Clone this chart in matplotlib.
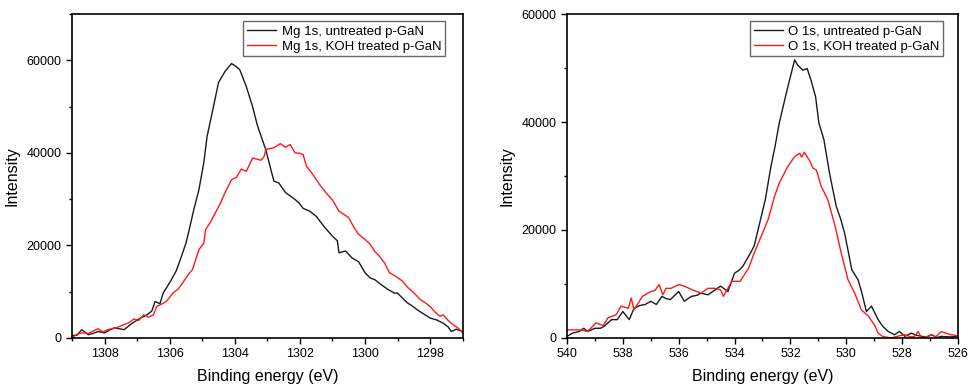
import matplotlib
matplotlib.use("Agg")
import matplotlib.pyplot as plt
from matplotlib.ticker import MultipleLocator

plt.rcParams['font.family'] = ['Liberation Sans', 'DejaVu Sans']

# ---- Mg 1s data ----
mg_untreated_e = [1309.0, 1308.85, 1308.7, 1308.5, 1308.35, 1308.2, 1308.0, 1307.85, 1307.7, 1307.55,
                  1307.4, 1307.15, 1306.9, 1306.7, 1306.55, 1306.45, 1306.3, 1306.2, 1305.97, 1305.8,
                  1305.67, 1305.5, 1305.4, 1305.25, 1305.1, 1304.95, 1304.85, 1304.7, 1304.5, 1304.3,
                  1304.1, 1303.95, 1303.85, 1303.65, 1303.46, 1303.3, 1303.05, 1302.8, 1302.65, 1302.44,
                  1302.2, 1302.03, 1301.9, 1301.7, 1301.5, 1301.25, 1301.0, 1300.85, 1300.8, 1300.6,
                  1300.4, 1300.2, 1300.0, 1299.85, 1299.7, 1299.5, 1299.3, 1299.1, 1299.0, 1298.85,
                  1298.7, 1298.55, 1298.4, 1298.2, 1298.0, 1297.8, 1297.6, 1297.45, 1297.35, 1297.2,
                  1297.0]
mg_untreated_i = [500, 600, 1800, 700, 1000, 1400, 1100, 1700, 2200, 2000,
                  1800, 3200, 4300, 5000, 5800, 7900, 7400, 9700, 12300, 14500,
                  17000, 20500, 23400, 28000, 32100, 38000, 43600, 48500, 55200, 57600,
                  59300, 58600, 58000, 54400, 50100, 45800, 40700, 33900, 33500, 31400,
                  30200, 29200, 28000, 27400, 26300, 24000, 22000, 21000, 18400, 18800,
                  17300, 16500, 14100, 13000, 12600, 11500, 10500, 9700, 9700, 8600,
                  7600, 6900, 6100, 5200, 4300, 3900, 3200, 2400, 1400, 1900,
                  1400]

mg_koh_e = [1309.0, 1308.85, 1308.7, 1308.5, 1308.35, 1308.2, 1308.05, 1307.9, 1307.65, 1307.4,
            1307.25, 1307.1, 1306.95, 1306.8, 1306.65, 1306.5, 1306.4, 1306.25, 1306.1, 1305.9,
            1305.75, 1305.6, 1305.45, 1305.3, 1305.1, 1304.95, 1304.9, 1304.75, 1304.6, 1304.45,
            1304.3, 1304.1, 1303.95, 1303.8, 1303.65, 1303.45, 1303.3, 1303.2, 1303.1, 1303.05,
            1302.8, 1302.6, 1302.45, 1302.3, 1302.15, 1302.0, 1301.9, 1301.8, 1301.6, 1301.4,
            1301.2, 1301.0, 1300.8, 1300.5, 1300.35, 1300.2, 1300.0, 1299.85, 1299.7, 1299.55,
            1299.4, 1299.25, 1299.05, 1298.85, 1298.7, 1298.55, 1298.3, 1298.15, 1298.0, 1297.85,
            1297.7, 1297.6, 1297.45, 1297.3, 1297.15, 1297.0]
mg_koh_i = [0, 800, 1100, 1000, 1500, 2000, 1300, 1800, 2200, 2900,
            3300, 4100, 3800, 5000, 4500, 5000, 6800, 7300, 7900, 9700,
            10500, 11900, 13500, 14800, 19100, 20500, 23400, 25000, 27000, 29000,
            31400, 34200, 34700, 36500, 36000, 38900, 38600, 38400, 39200, 40700,
            41100, 42000, 41200, 41800, 40000, 39900, 39600, 37100, 35300, 33200,
            31400, 29800, 27400, 26000, 24000, 22400, 21300, 20300, 18700, 17600,
            16200, 14100, 13300, 12300, 11000, 10100, 8300, 7600, 6800, 5600,
            4700, 5000, 3800, 2900, 2200, 1100]

# ---- O 1s data ----
o_untreated_e = [540.0, 539.8, 539.56, 539.4, 539.26, 539.0, 538.8, 538.66, 538.4, 538.2,
                 538.0, 537.77, 537.6, 537.4, 537.2, 537.0, 536.8, 536.6, 536.45, 536.3,
                 536.0, 535.8, 535.55, 535.35, 535.2, 534.95, 534.7, 534.5, 534.24, 534.0,
                 533.85, 533.7, 533.5, 533.3, 533.1, 532.9, 532.7, 532.55, 532.4, 532.15,
                 532.0, 531.85, 531.75, 531.67, 531.55, 531.4, 531.25, 531.1, 530.98, 530.8,
                 530.6, 530.36, 530.2, 530.06, 529.8, 529.58, 529.45, 529.28, 529.1, 528.86,
                 528.7, 528.5, 528.27, 528.1, 527.9, 527.67, 527.5, 527.3, 527.1, 526.95,
                 526.75, 526.6, 526.3, 526.0]
o_untreated_i = [300, 900, 1200, 1800, 1200, 1800, 1800, 2200, 3400, 3400,
                 4900, 3400, 5500, 6000, 6200, 6800, 6200, 7700, 7300, 7100,
                 8600, 6800, 7700, 7900, 8300, 8000, 8900, 9600, 8600, 12000,
                 12500, 13300, 15100, 17000, 21300, 25600, 31700, 35500, 39800, 45300,
                 48400, 51500, 50600, 50200, 49600, 49900, 47500, 44700, 39800, 36700,
                 30500, 24400, 22000, 19400, 12600, 10800, 8500, 4900, 5900, 3400,
                 2200, 1200, 600, 1200, 300, 900, 500, 300, 200, 600,
                 100, 300, 200, 300]

o_koh_e = [540.0, 539.5, 539.26, 538.96, 538.7, 538.54, 538.24, 538.06, 537.8, 537.7,
           537.6, 537.3, 537.0, 536.85, 536.7, 536.57, 536.45, 536.27, 536.0, 535.8,
           535.5, 535.2, 534.95, 534.7, 534.5, 534.4, 534.1, 533.8, 533.5, 533.3,
           533.05, 532.8, 532.57, 532.4, 532.1, 531.85, 531.67, 531.6, 531.5, 531.3,
           531.2, 531.07, 530.9, 530.66, 530.4, 530.18, 529.94, 529.7, 529.46, 529.2,
           528.97, 528.86, 528.7, 528.4, 528.1, 527.9, 527.7, 527.55, 527.43, 527.3,
           527.1, 526.95, 526.8, 526.6, 526.4, 526.24, 526.0]
o_koh_i = [1500, 1500, 1200, 2800, 2300, 3700, 4300, 5900, 5500, 7400,
           5200, 7700, 8600, 8800, 9900, 8000, 9200, 9200, 9900, 9600,
           8900, 8300, 9200, 9200, 8900, 7700, 10500, 10500, 12900, 15700,
           18800, 21900, 26200, 28700, 31700, 33600, 34200, 33500, 34400, 32700,
           31500, 31100, 28100, 25600, 20700, 15700, 10800, 8300, 5200, 4000,
           2200, 900, 300, 0, 400, 600, 200, 300, 1200, 0,
           300, 600, 200, 1200, 800, 600, 400]

fig = plt.figure(figsize=(9.68, 3.86), dpi=100)
ax1 = fig.add_axes([0.0744, 0.1244, 0.4036, 0.8393])
ax2 = fig.add_axes([0.5857, 0.1244, 0.4040, 0.8393])

def style(ax, xlim, ylim, xmaj, ymaj):
    ax.set_xlim(*xlim)
    ax.set_ylim(*ylim)
    ax.xaxis.set_major_locator(MultipleLocator(xmaj))
    ax.xaxis.set_minor_locator(MultipleLocator(xmaj / 2))
    ax.yaxis.set_major_locator(MultipleLocator(ymaj))
    ax.yaxis.set_minor_locator(MultipleLocator(ymaj / 2))
    ax.tick_params(which='both', direction='out', top=False, right=False, labelsize=9)
    ax.tick_params(which='major', length=4, width=1)
    ax.tick_params(which='minor', length=2.5, width=1)
    for s in ax.spines.values():
        s.set_linewidth(1.2)
    ax.set_xlabel('Binding energy (eV)', fontsize=11.5, labelpad=6)
    ax.set_ylabel('Intensity', fontsize=11.5, labelpad=5)

ax1.plot(mg_untreated_e, mg_untreated_i, color='#1a1a1a', lw=1.0, label='Mg 1s, untreated p-GaN')
ax1.plot(mg_koh_e, mg_koh_i, color='#ff1a1a', lw=1.0, label='Mg 1s, KOH treated p-GaN')
style(ax1, (1309, 1297), (0, 70000), 2, 20000)
ax1.legend(loc='upper right', bbox_to_anchor=(0.955, 0.977), fontsize=9.5, frameon=True,
           fancybox=False, edgecolor='#444444', handlelength=2.2, handletextpad=0.4,
           borderpad=0.3, labelspacing=0.2, borderaxespad=0).get_frame().set_linewidth(1.0)

ax2.plot(o_untreated_e, o_untreated_i, color='#1a1a1a', lw=1.0, label='O 1s, untreated p-GaN')
ax2.plot(o_koh_e, o_koh_i, color='#ff1a1a', lw=1.0, label='O 1s, KOH treated p-GaN')
style(ax2, (540, 526), (0, 60000), 2, 20000)
ax2.legend(loc='upper right', bbox_to_anchor=(0.962, 0.977), fontsize=9.5, frameon=True,
           fancybox=False, edgecolor='#444444', handlelength=2.2, handletextpad=0.4,
           borderpad=0.3, labelspacing=0.2, borderaxespad=0).get_frame().set_linewidth(1.0)

fig.savefig('out.png', dpi=100)
